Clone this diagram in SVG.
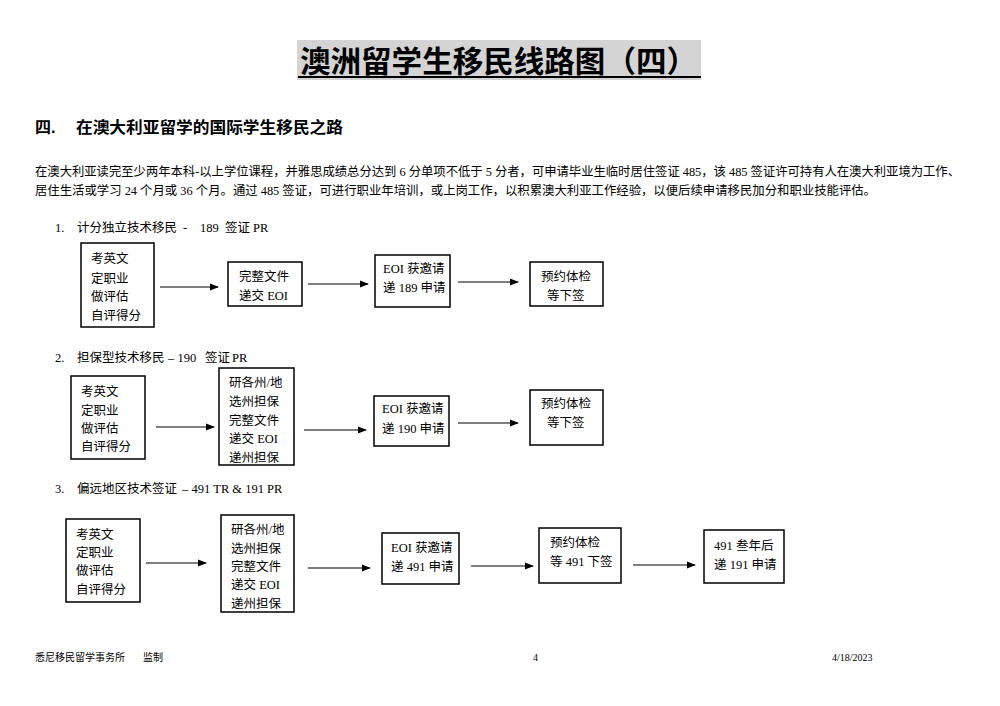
<svg xmlns="http://www.w3.org/2000/svg" width="1000" height="706" viewBox="0 0 1000 706">
<style>
.t{font-family:"Liberation Serif","Noto Sans CJK SC",serif;font-size:12.5px;fill:#000}
.box{fill:#fff;stroke:#000;stroke-width:1.5}
.ln{stroke:#000;stroke-width:1.2;fill:none}
.h{font-family:"Liberation Sans","Noto Sans CJK SC",sans-serif;font-weight:bold;fill:#000}
.f{font-family:"Liberation Serif","Noto Sans CJK SC",serif;font-size:10px;fill:#000}
</style>
<defs>
<marker id="ah" viewBox="0 0 10 10" refX="9" refY="5" markerWidth="9" markerHeight="9" markerUnits="userSpaceOnUse" orient="auto">
<path d="M0,1 L10,5 L0,9 z" fill="#000"/>
</marker>
</defs>
<rect width="1000" height="706" fill="#fff"/>
<g id="title">
<rect x="297" y="40" width="404" height="40" fill="#d4d4d4"/>
<text x="300" y="72" class="h" font-size="30" textLength="397" lengthAdjust="spacingAndGlyphs">澳洲留学生移民线路图（四）</text>
<line x1="298" y1="77" x2="701" y2="77" stroke="#000" stroke-width="2"/>
</g>
<g id="heading">
<text x="35" y="133" class="h" font-size="16">四.</text>
<text x="76" y="133" class="h" font-size="16" textLength="267" lengthAdjust="spacingAndGlyphs">在澳大利亚留学的国际学生移民之路</text>
</g>
<g id="paragraph">
<text x="35" y="176" class="t" font-size="12" textLength="925" lengthAdjust="spacingAndGlyphs">在澳大利亚读完至少两年本科-以上学位课程，并雅思成绩总分达到 6 分单项不低于 5 分者，可申请毕业生临时居住签证 485，该 485 签证许可持有人在澳大利亚境为工作、</text>
<text x="35" y="195" class="t" font-size="12" textLength="841" lengthAdjust="spacingAndGlyphs">居住生活或学习 24 个月或 36 个月。通过 485 签证，可进行职业年培训，或上岗工作，以积累澳大利亚工作经验，以便后续申请移民加分和职业技能评估。</text>
</g>
<g id="labels">
<text x="55" y="232" class="t" font-size="12">1.</text>
<text x="77" y="232" class="t" font-size="12">计分独立技术移民<tspan x="183">-</tspan><tspan x="200">189</tspan><tspan x="225">签证</tspan><tspan x="253">PR</tspan></text>
<text x="55" y="362" class="t" font-size="12">2.</text>
<text x="77" y="362" class="t" font-size="12">担保型技术移民<tspan x="168">– 190</tspan><tspan x="205">签证</tspan><tspan x="232">PR</tspan></text>
<text x="55" y="493" class="t" font-size="12">3.</text>
<text x="77" y="493" class="t" font-size="12">偏远地区技术签证<tspan x="182">– 491 TR &amp; 191 PR</tspan></text>
</g>
<g id="connectors">
<line class="ln" x1="160" y1="287" x2="218" y2="287" marker-end="url(#ah)"/>
<line class="ln" x1="308" y1="284" x2="368" y2="284" marker-end="url(#ah)"/>
<line class="ln" x1="458" y1="282" x2="518" y2="282" marker-end="url(#ah)"/>
<line class="ln" x1="156" y1="427" x2="214" y2="427" marker-end="url(#ah)"/>
<line class="ln" x1="304" y1="430" x2="366" y2="430" marker-end="url(#ah)"/>
<line class="ln" x1="458" y1="423" x2="518" y2="423" marker-end="url(#ah)"/>
<line class="ln" x1="146" y1="563" x2="206" y2="563" marker-end="url(#ah)"/>
<line class="ln" x1="308" y1="568" x2="370" y2="568" marker-end="url(#ah)"/>
<line class="ln" x1="471" y1="566" x2="533" y2="566" marker-end="url(#ah)"/>
<line class="ln" x1="633" y1="565" x2="695" y2="565" marker-end="url(#ah)"/>
</g>
<g id="n1a">
<rect class="box" x="81" y="243" width="73" height="84"/>
<text class="t" x="91" y="263">考英文</text>
<text class="t" x="91" y="283">定职业</text>
<text class="t" x="91" y="301">做评估</text>
<text class="t" x="91" y="320">自评得分</text>
</g>
<g id="n1b">
<rect class="box" x="228" y="262" width="74" height="44"/>
<text class="t" x="239" y="281">完整文件</text>
<text class="t" x="239" y="300">递交 EOI</text>
</g>
<g id="n1c">
<rect class="box" x="375" y="255" width="75" height="52"/>
<text class="t" x="383" y="273">EOI 获邀请</text>
<text class="t" x="383" y="292">递 189 申请</text>
</g>
<g id="n1d">
<rect class="box" x="530" y="262" width="73" height="44"/>
<text class="t" x="541" y="281">预约体检</text>
<text class="t" x="547" y="300">等下签</text>
</g>
<g id="n2a">
<rect class="box" x="71" y="376" width="74" height="83"/>
<text class="t" x="81" y="396">考英文</text>
<text class="t" x="81" y="415">定职业</text>
<text class="t" x="81" y="433">做评估</text>
<text class="t" x="81" y="451">自评得分</text>
</g>
<g id="n2b">
<rect class="box" x="219" y="368" width="75" height="97"/>
<text class="t" x="229" y="387">研各州/地</text>
<text class="t" x="229" y="406">选州担保</text>
<text class="t" x="229" y="425">完整文件</text>
<text class="t" x="229" y="443">递交 EOI</text>
<text class="t" x="229" y="462">递州担保</text>
</g>
<g id="n2c">
<rect class="box" x="374" y="396" width="75" height="50"/>
<text class="t" x="382" y="413">EOI 获邀请</text>
<text class="t" x="382" y="433">递 190 申请</text>
</g>
<g id="n2d">
<rect class="box" x="530" y="390" width="73" height="55"/>
<text class="t" x="541" y="408">预约体检</text>
<text class="t" x="547" y="427">等下签</text>
</g>
<g id="n3a">
<rect class="box" x="66" y="519" width="74" height="83"/>
<text class="t" x="76" y="539">考英文</text>
<text class="t" x="76" y="557">定职业</text>
<text class="t" x="76" y="575">做评估</text>
<text class="t" x="76" y="594">自评得分</text>
</g>
<g id="n3b">
<rect class="box" x="221" y="515" width="73" height="97"/>
<text class="t" x="231" y="534">研各州/地</text>
<text class="t" x="231" y="553">选州担保</text>
<text class="t" x="231" y="571">完整文件</text>
<text class="t" x="231" y="589">递交 EOI</text>
<text class="t" x="231" y="608">递州担保</text>
</g>
<g id="n3c">
<rect class="box" x="382" y="533" width="77" height="51"/>
<text class="t" x="391" y="552">EOI 获邀请</text>
<text class="t" x="391" y="571">递 491 申请</text>
</g>
<g id="n3d">
<rect class="box" x="539" y="528" width="82" height="55"/>
<text class="t" x="550" y="547">预约体检</text>
<text class="t" x="550" y="566">等 491 下签</text>
</g>
<g id="n3e">
<rect class="box" x="704" y="530" width="80" height="53"/>
<text class="t" x="714" y="550">491 叁年后</text>
<text class="t" x="714" y="569">递 191 申请</text>
</g>
<g id="footer">
<text class="f" x="35" y="661">悉尼移民留学事务所<tspan x="143">监制</tspan></text>
<text class="f" x="533" y="661">4</text>
<text class="f" x="832" y="661">4/18/2023</text>
</g>
</svg>
